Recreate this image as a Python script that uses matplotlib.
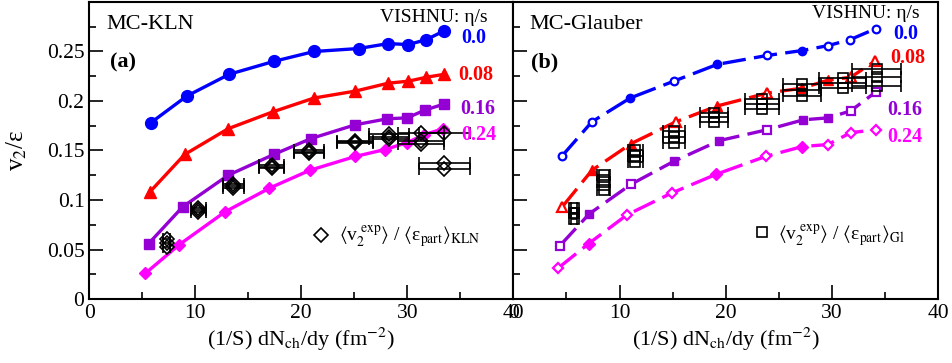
import matplotlib
matplotlib.use('Agg')
import matplotlib.pyplot as plt
from matplotlib.ticker import MultipleLocator

plt.rcParams['font.family'] = ['Liberation Serif', 'DejaVu Serif']
plt.rcParams['mathtext.fontset'] = 'stix'

# ---- MC-KLN (panel a), VISHNU curves
kln_x = [5.8, 9.2, 13.2, 17.4, 21.2, 25.4, 28.2, 30.1, 31.8, 33.5]
kln_00 = [0.178, 0.205, 0.227, 0.240, 0.250, 0.253, 0.258, 0.257, 0.262, 0.271]
kln_x08 = [5.7, 9.0, 13.1, 17.3, 21.2, 25.1, 28.2, 30.1, 31.8, 33.5]
kln_08 = [0.108, 0.146, 0.172, 0.189, 0.203, 0.210, 0.218, 0.220, 0.224, 0.227]
kln_x16 = [5.6, 8.8, 13.1, 17.4, 20.9, 25.1, 28.1, 30.0, 31.7, 33.5]
kln_16 = [0.056, 0.093, 0.125, 0.146, 0.162, 0.176, 0.182, 0.183, 0.191, 0.197]
kln_x24 = [5.3, 8.5, 12.8, 17.0, 20.8, 25.1, 27.9, 30.0, 31.6, 33.4]
kln_24 = [0.026, 0.055, 0.088, 0.112, 0.130, 0.144, 0.151, 0.158, 0.166, 0.172]

# data / KLN eccentricity (diamonds, several overlapping sets)
kdat_x = [7.3, 10.3, 13.6, 17.2, 20.7, 25.1, 28.3, 31.3, 33.5]
kdat_xerr = [0.3, 0.7, 0.95, 1.2, 1.4, 1.7, 1.9, 2.15, 2.4]
kdat_a = [0.061, 0.092, 0.116, 0.135, 0.150, 0.160, 0.167, 0.168, 0.168]
kdat_b = [0.057, 0.090, 0.114, 0.133, 0.148, 0.159, 0.164, 0.160, 0.137]
kdat_c = [0.053, 0.088, 0.112, 0.132, 0.147, 0.158, 0.162, 0.157, 0.131]

# ---- MC-Glauber (panel b)
glb_x00 = [4.55, 7.4, 11.0, 15.1, 19.2, 23.9, 27.2, 29.65, 31.7, 34.1]
glb_00 = [0.144, 0.179, 0.203, 0.220, 0.237, 0.246, 0.251, 0.256, 0.262, 0.273]
glb_x08 = [4.6, 7.4, 11.1, 15.3, 19.2, 23.9, 27.2, 29.6, 31.75, 34.0]
glb_08 = [0.093, 0.130, 0.157, 0.179, 0.195, 0.208, 0.213, 0.221, 0.224, 0.240]
glb_x16 = [4.4, 7.15, 11.1, 15.1, 19.4, 23.9, 27.3, 29.65, 31.75, 34.1]
glb_16 = [0.054, 0.086, 0.116, 0.139, 0.160, 0.171, 0.181, 0.183, 0.190, 0.209]
glb_x24 = [4.2, 7.1, 10.7, 14.9, 19.1, 23.75, 27.2, 29.6, 31.75, 34.1]
glb_24 = [0.031, 0.056, 0.085, 0.107, 0.126, 0.144, 0.154, 0.156, 0.168, 0.171]
# which points carry filled markers (the rest are open)
glb_fill00 = [2, 4, 6]
glb_fill08 = [1, 2, 4, 6, 7]
glb_fill16 = [1, 3, 4, 6, 7]
glb_fill24 = [1, 4, 6]

# data / Glauber eccentricity (squares)
gdat_x = [5.7, 8.5, 11.5, 15.1, 18.9, 23.4, 27.2, 31.0, 34.2]
gdat_xerr = [0.3, 0.6, 0.75, 1.05, 1.3, 1.6, 1.8, 2.2, 2.3]
gdat_a = [0.092, 0.125, 0.150, 0.170, 0.188, 0.202, 0.217, 0.223, 0.232]
gdat_b = [0.087, 0.118, 0.144, 0.164, 0.184, 0.197, 0.211, 0.218, 0.224]
gdat_c = [0.081, 0.110, 0.138, 0.158, 0.179, 0.192, 0.205, 0.213, 0.215]

blue = '#0000ff'
red = '#ff0000'
purple = '#9400d3'
magenta = '#ff00ff'

fig = plt.figure(figsize=(9.53, 3.63), dpi=100)
ax1 = fig.add_axes([0.0937, 0.1763, 0.4449, 0.8182])
ax2 = fig.add_axes([0.5386, 0.1763, 0.4460, 0.8182])

lw = 2.4
ax1.plot(kln_x, kln_00, '-o', color=blue, lw=lw, ms=8.5)
ax1.plot(kln_x08, kln_08, '-^', color=red, lw=lw, ms=9)
ax1.plot(kln_x16, kln_16, '-s', color=purple, lw=lw, ms=6.5)
ax1.plot(kln_x24, kln_24, '-D', color=magenta, lw=lw, ms=6)
for ys in (kdat_a, kdat_b, kdat_c):
    ax1.errorbar(kdat_x, ys, xerr=kdat_xerr, fmt='D', mfc='none', mec='k',
                 ms=7, mew=1.2, ecolor='k', elinewidth=1.2, capsize=4, capthick=1.2)

for xs, ys, fill, c, m in ((glb_x00, glb_00, glb_fill00, blue, 'o'),
                           (glb_x08, glb_08, glb_fill08, red, '^'),
                           (glb_x16, glb_16, glb_fill16, purple, 's'),
                           (glb_x24, glb_24, glb_fill24, magenta, 'D')):
    ax2.plot(xs, ys, '--', color=c, lw=lw, dashes=[7, 2.5])
    opn = [i for i in range(len(xs)) if i not in fill]
    ax2.plot([xs[i] for i in opn], [ys[i] for i in opn], m, color=c, mfc='white',
             mew=1.6, ms=7 if m == '^' else 5.5)
    ax2.plot([xs[i] for i in fill], [ys[i] for i in fill], m, color=c, ms=7.5 if m == '^' else 6)
for ys in (gdat_a, gdat_b, gdat_c):
    ax2.errorbar(gdat_x, ys, xerr=gdat_xerr, fmt='s', mfc='none', mec='k',
                 ms=7, mew=1.2, ecolor='k', elinewidth=1.2, capsize=4, capthick=1.2)

for ax in (ax1, ax2):
    ax.set_xlim(0, 40)
    ax.set_ylim(0, 0.3)
    ax.xaxis.set_major_locator(MultipleLocator(10))
    ax.xaxis.set_minor_locator(MultipleLocator(5))
    ax.yaxis.set_major_locator(MultipleLocator(0.05))
    ax.yaxis.set_minor_locator(MultipleLocator(0.025))
    ax.tick_params(which='both', direction='in', top=False, right=False,
                   labelsize=15.5, width=1.2)
    ax.tick_params(which='major', length=10)
    ax.tick_params(which='minor', length=5)
    for s in ax.spines.values():
        s.set_linewidth(1.5)
    ax.set_xlabel(r'(1/S) dN$_{\mathrm{ch}}$/dy (fm$^{-2}$)', fontsize=16, labelpad=2)
ax1.set_yticks([0, 0.05, 0.1, 0.15, 0.2, 0.25])
ax1.set_yticklabels(['0', '0.05', '0.1', '0.15', '0.2', '0.25'])
ax2.tick_params(axis='y', labelleft=False)

fig.text(0.018, 0.585, r'v$_2$/ε', rotation=90, fontsize=18,
         ha='center', va='center')

# panel annotations
ax1.text(0.041, 0.909, 'MC-KLN', transform=ax1.transAxes, fontsize=16, va='baseline')
ax1.text(0.049, 0.798, '(a)', transform=ax1.transAxes, fontsize=16, weight='bold', va='center')
ax1.text(0.940, 0.933, 'VISHNU: η/s', transform=ax1.transAxes, fontsize=14,
         ha='right', va='baseline')
ax2.text(0.039, 0.908, 'MC-Glauber', transform=ax2.transAxes, fontsize=16, va='baseline')
ax2.text(0.041, 0.798, '(b)', transform=ax2.transAxes, fontsize=16, weight='bold', va='center')
ax2.text(0.955, 0.945, 'VISHNU: η/s', transform=ax2.transAxes, fontsize=14,
         ha='right', va='baseline')

for ax, pos in ((ax1, [(0.878, 0.879), (0.870, 0.754), (0.874, 0.640), (0.877, 0.552)]),
                (ax2, [(0.893, 0.893), (0.886, 0.811), (0.881, 0.636), (0.881, 0.545)])):
    for (px, py), lab, c in zip(pos, ['0.0', '0.08', '0.16', '0.24'],
                                [blue, red, purple, magenta]):
        ax.text(px, py, lab, transform=ax.transAxes, color=c, fontsize=14.5,
                weight='bold', va='center')

ax1.plot([21.9], [0.0646], 'D', mfc='none', mec='k', ms=7, mew=1.2)
ax1.text(23.6, 0.063, r'$\langle$v$_2^{\ \mathrm{exp}}$$\rangle$ / $\langle$ε$_{\mathrm{part}}$$\rangle_{\mathrm{KLN}}$',
         fontsize=14, va='center')
ax2.plot([23.4], [0.068], 's', mfc='none', mec='k', ms=7, mew=1.2)
ax2.text(24.9, 0.064, r'$\langle$v$_2^{\ \mathrm{exp}}$$\rangle$ / $\langle$ε$_{\mathrm{part}}$$\rangle_{\mathrm{Gl}}$',
         fontsize=14, va='center')

fig.savefig('out.png', dpi=100)
